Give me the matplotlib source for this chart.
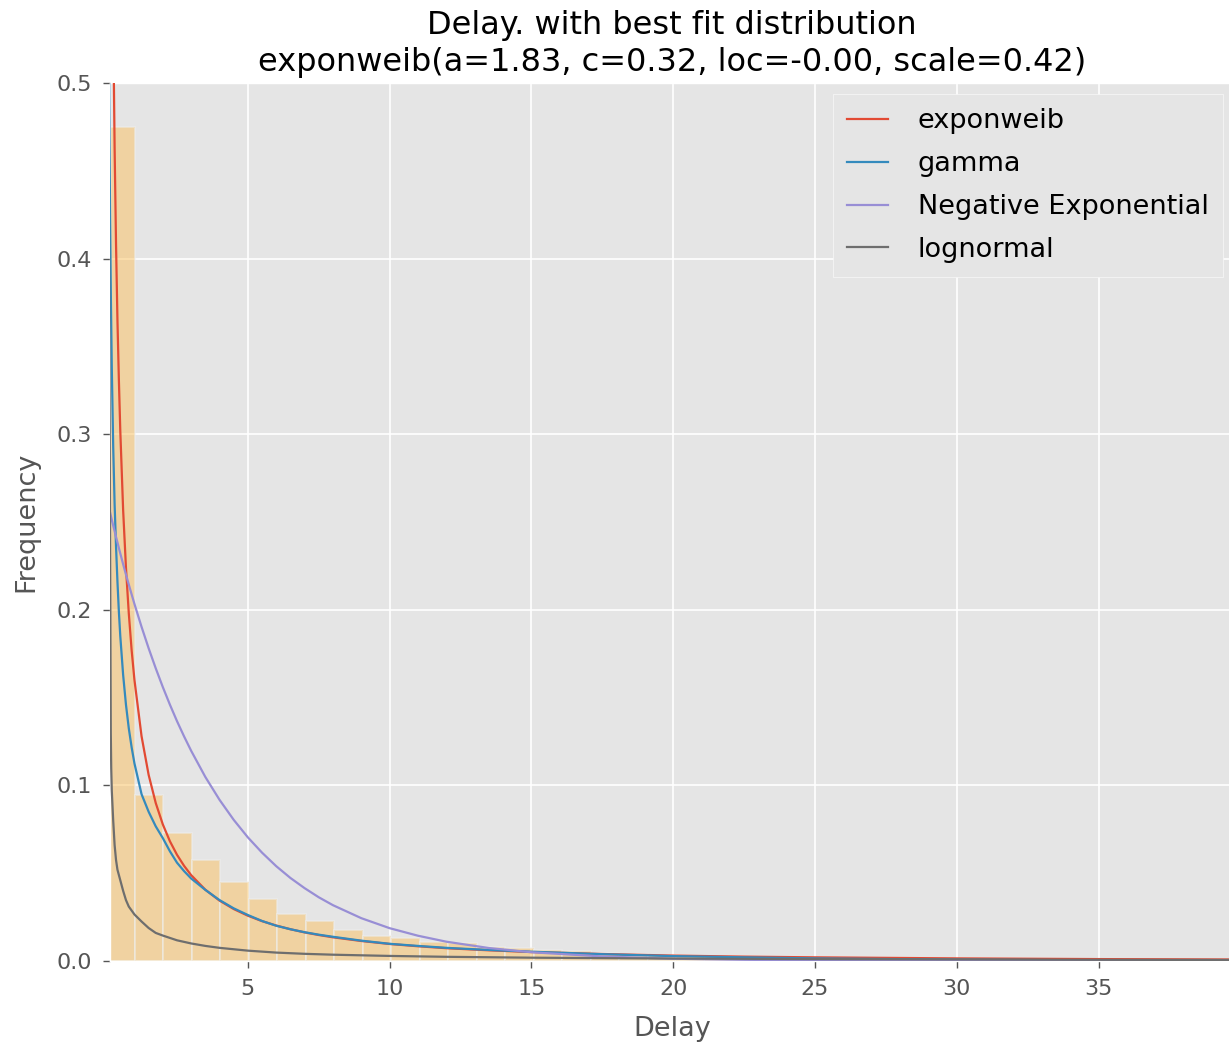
import numpy as np
import matplotlib
matplotlib.use("Agg")
import matplotlib.pyplot as plt

# histogram of delays (density), bins of ~1 unit starting at 0
bin_width = 1.005
hist_density = [0.475, 0.0945, 0.0727, 0.0575, 0.0448, 0.0355, 0.0268, 0.0228,
                0.0177, 0.0140, 0.0129, 0.0110, 0.0100, 0.0082, 0.0072, 0.0065,
                0.0055, 0.0048, 0.0040, 0.0034, 0.0028, 0.0024, 0.0021, 0.0018,
                0.0016, 0.0014, 0.0012, 0.0011, 0.0010, 0.0009, 0.0008, 0.0008,
                0.0007, 0.0006, 0.0006, 0.0005, 0.0005, 0.0004, 0.0004, 0.0004]

# fitted pdf curves
x_fit = [0.1, 0.12, 0.14, 0.17, 0.2, 0.25, 0.3, 0.35, 0.4, 0.45, 0.5, 0.6, 0.7,
         0.8, 0.9, 1.0, 1.25, 1.5, 1.75, 2.0, 2.25, 2.5, 2.75, 3.0, 3.5, 4.0,
         4.5, 5, 5.5, 6, 6.5, 7, 7.5, 8, 9, 10, 11, 12, 13.5, 15, 17.5, 20,
         22.5, 25, 30, 35, 40]
pdf_exponweib = [1.048, 0.923, 0.826, 0.717, 0.635, 0.535, 0.463, 0.408, 0.365,
                 0.331, 0.302, 0.257, 0.224, 0.198, 0.177, 0.160, 0.128, 0.106,
                 0.090, 0.0778, 0.0682, 0.0605, 0.0542, 0.0489, 0.0406, 0.0344,
                 0.0296, 0.0258, 0.0227, 0.0202, 0.0181, 0.0163, 0.0148, 0.0135,
                 0.0114, 0.0097, 0.0084, 0.0073, 0.0061, 0.0051, 0.0040, 0.0031,
                 0.0025, 0.0021, 0.0015, 0.0011, 0.00085]
pdf_gamma = [0.526, 0.468, 0.424, 0.375, 0.338, 0.293, 0.260, 0.236, 0.216,
             0.199, 0.185, 0.163, 0.146, 0.1325, 0.1217, 0.1125, 0.095, 0.085,
             0.0767, 0.0700, 0.0625, 0.0560, 0.0512, 0.0470, 0.0405, 0.0347,
             0.0300, 0.0262, 0.0228, 0.0201, 0.0181, 0.0164, 0.0150, 0.0138,
             0.0116, 0.0098, 0.0086, 0.0075, 0.0063, 0.0053, 0.0039, 0.0028,
             0.0021, 0.0015, 0.0008, 0.0004, 0.0002]
pdf_negexp = [0.2581, 0.2567, 0.2554, 0.2533, 0.2513, 0.2480, 0.2448, 0.2415,
              0.2384, 0.2352, 0.2321, 0.2260, 0.2201, 0.2144, 0.2088, 0.2033,
              0.1903, 0.1781, 0.1667, 0.1560, 0.1460, 0.1366, 0.1279, 0.1197,
              0.1048, 0.0918, 0.0804, 0.0704, 0.0617, 0.0540, 0.0473, 0.0415,
              0.0363, 0.0318, 0.0244, 0.0187, 0.0144, 0.0110, 0.0074, 0.0050,
              0.0026, 0.0013, 0.0007, 0.00035, 0.0001, 0.0, 0.0]
x_lognorm = [0.1, 0.12, 0.137, 0.15, 0.165, 0.18, 0.2, 0.25, 0.3, 0.35, 0.4, 0.5,
             0.6, 0.7, 0.8, 1.0, 1.25, 1.5, 1.75, 2.0, 2.5, 3.0, 3.5, 4.0, 5, 6,
             7, 8, 10, 12, 15, 20, 25, 30, 35, 40]
pdf_lognorm = [0.42, 0.33, 0.26, 0.20, 0.13, 0.11, 0.097, 0.080, 0.066, 0.0575,
               0.052, 0.046, 0.040, 0.0347, 0.031, 0.0265, 0.0225, 0.0188,
               0.0160, 0.0145, 0.0118, 0.0100, 0.0086, 0.0075, 0.0059, 0.0048,
               0.0041, 0.0036, 0.0029, 0.0024, 0.0019, 0.0014, 0.0011, 0.0009,
               0.0007, 0.0006]

plt.style.use("ggplot")
plt.rcParams["font.family"] = ["DejaVu Sans"]

fig = plt.figure(figsize=(12.29, 10.43), dpi=100)
# axes runs slightly past the right border of the image
ax = fig.add_axes([0.0895, 0.0786, 0.9146, 0.8418])

bin_left = np.arange(len(hist_density)) * bin_width
ax.bar(bin_left, hist_density, width=bin_width, align="edge", color="#FBC15E",
       alpha=0.5, edgecolor="#EEEEEE", linewidth=1.5, zorder=1)

ax.plot(x_fit, pdf_exponweib, color="#E24A33", lw=1.6, label="exponweib", zorder=3)
ax.plot(x_fit, pdf_gamma, color="#348ABD", lw=1.6, label="gamma", zorder=3)
ax.plot(x_fit, pdf_negexp, color="#988ED5", lw=1.6, label="Negative Exponential", zorder=3)
ax.plot(x_lognorm, pdf_lognorm, color="#6E6E6E", lw=1.6, label="lognormal", zorder=3)

ax.set_xlim(0.137, 39.78)
ax.set_ylim(0, 0.5)
ax.set_xticks([5, 10, 15, 20, 25, 30, 35])
ax.set_yticks([0.0, 0.1, 0.2, 0.3, 0.4, 0.5])
ax.set_yticklabels(["0.0", "0.1", "0.2", "0.3", "0.4", "0.5"])
ax.tick_params(labelsize=16, colors="#555555", length=5, width=1, pad=8)
ax.grid(True, color="white", lw=1.2)

ax.set_title("Delay. with best fit distribution\n"
             "exponweib(a=1.83, c=0.32, loc=-0.00, scale=0.42)",
             fontsize=23, color="black", pad=9, linespacing=1.25)
ax.set_xlabel("Delay", fontsize=19.5, color="#555555", labelpad=12)
ax.set_ylabel("Frequency", fontsize=19.5, color="#555555", labelpad=12)

leg = ax.legend(loc="upper right", fontsize=19.5, handlelength=1.5,
                handletextpad=1.1, labelspacing=0.62, borderpad=0.52,
                fancybox=False, facecolor="#E5E5E5", edgecolor="#F8F8F8",
                framealpha=1.0, borderaxespad=0.42)

fig.savefig("out.png", dpi=100)
